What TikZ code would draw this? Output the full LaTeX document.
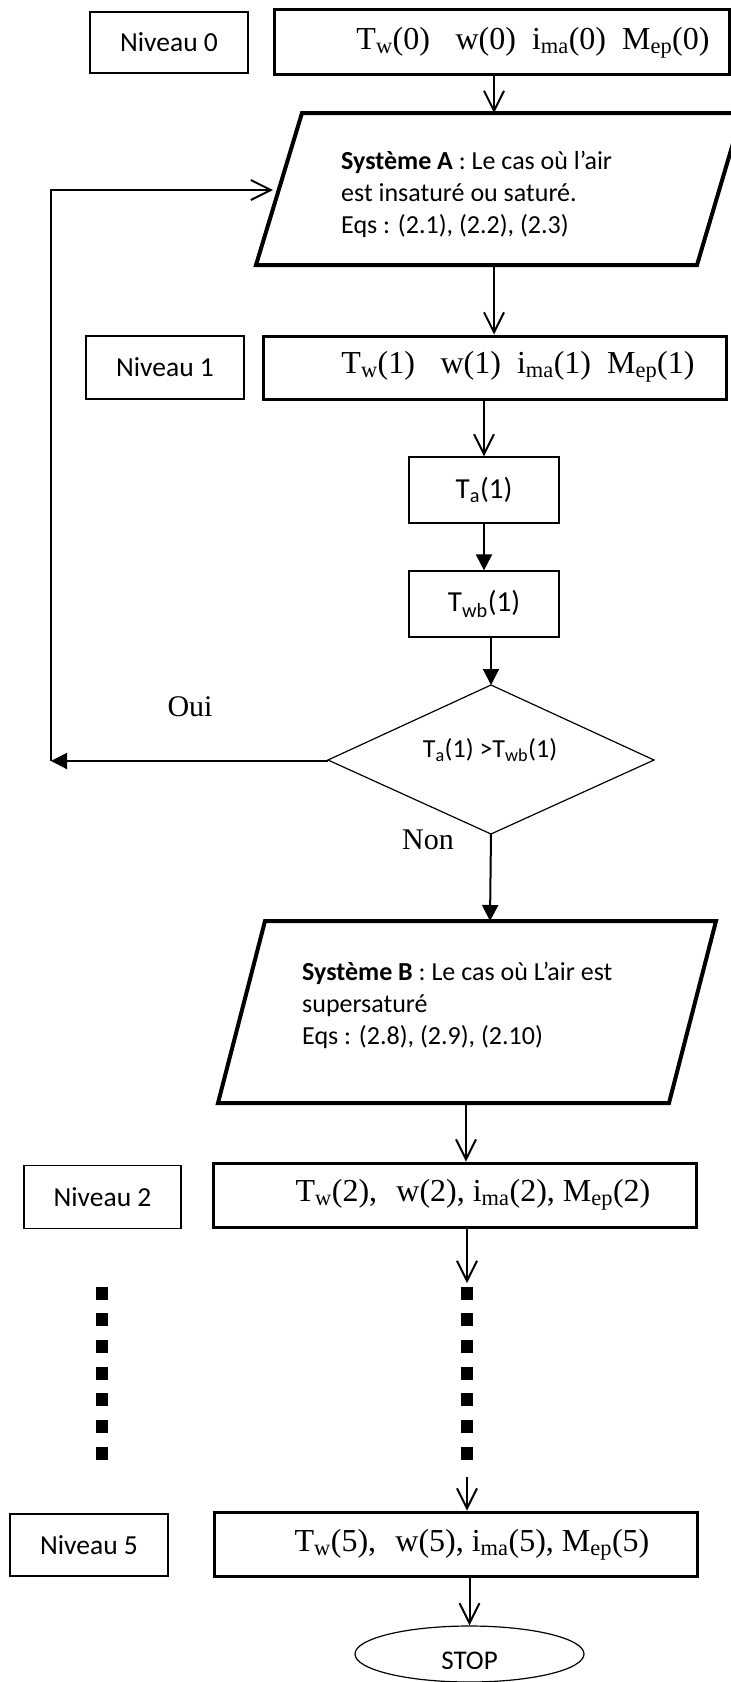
\documentclass[tikz,border=0pt]{standalone}
\usepackage{fontspec}
\setmainfont{Liberation Serif}
\newfontfamily\calib{Carlito}
\usetikzlibrary{arrows.meta,shapes.geometric}
\newcommand\sbx[1]{\textsubscript{#1}}
\begin{document}
\begin{tikzpicture}[x=1pt,y=-1pt,
  lbl/.style={draw, line width=1.2pt, inner sep=0pt, font=\calib\fontsize{27.5}{32}\selectfont},
  thinbox/.style={draw, line width=1.2pt, inner sep=0pt, font=\calib\fontsize{29}{32}\selectfont},
  thickbox/.style={draw, line width=3pt, inner sep=0pt},
  ttext/.style={inner sep=0pt, font=\fontsize{32}{36}\selectfont},
  ptext/.style={inner sep=0pt, align=left, anchor=west, font=\calib\fontsize{26}{32}\selectfont},
  para/.style={line width=4pt, line join=miter},
  openarr/.style={-{Straight Barb[length=20pt,width=20pt]}, line width=2pt},
  filarr/.style={-{Triangle[length=16pt,width=16pt]}, line width=2pt}
]
\useasboundingbox (0,0) rectangle (731,1682);
\clip (0,0) rectangle (731,1682);

% Niveau 0
\node[lbl, minimum width=158pt, minimum height=61pt] (n0) at (169,42.5) {Niveau 0};
\node[thickbox, minimum width=455pt, minimum height=65pt] (b0) at (501.5,41.5) {};
\node[ttext] (t0) at (533,43) {T\sbx{w}(0)\hspace{0.8em}w(0)\hspace{0.5em}i\sbx{ma}(0)\hspace{0.5em}M\sbx{ep}(0)};

% Systeme A
\draw[para] (302,113) -- (742,113) -- (697,265) -- (256,265) -- cycle;
\node[ptext] (A) at (341,194) {\textbf{Système A} : Le cas où l’air\\est insaturé ou saturé.\\Eqs : (2.1), (2.2), (2.3)};
\coordinate (Atop) at (494,113);
\coordinate (Abot) at (494,265);
\coordinate (Ain) at (273,190);
\draw[openarr] (b0.south -| Atop) -- (Atop);

% Niveau 1
\node[lbl, minimum width=158pt, minimum height=63pt] (n1) at (165,367.5) {Niveau 1};
\node[thickbox, minimum width=463pt, minimum height=63pt] (b1) at (494.5,367.5) {};
\node[ttext] (t1) at (518,367) {T\sbx{w}(1)\hspace{0.8em}w(1)\hspace{0.5em}i\sbx{ma}(1)\hspace{0.5em}M\sbx{ep}(1)};
\draw[openarr] (Abot) -- (Abot |- b1.north);

% Ta, Twb
\node[thinbox, minimum width=150pt, minimum height=66pt] (ta) at (484,490) {T\sbx{a}(1)};
\node[thinbox, minimum width=150pt, minimum height=66pt] (twb) at (484,604) {T\sbx{wb}(1)};
\draw[openarr] (b1.south -| ta) -- (ta.north);
\draw[filarr] (ta.south) -- (twb.north);

% Decision
\coordinate (Dt) at (491,685);
\coordinate (Dr) at (654,760);
\coordinate (Db) at (491,834);
\coordinate (Dl) at (328,760);
\draw[line width=1.2pt] (Dt) -- (Dr) -- (Db) -- (Dl) -- cycle;
\node[inner sep=0pt, font=\calib\fontsize{26}{30}\selectfont] (D) at (490,750) {T\sbx{a}(1) >T\sbx{wb}(1)};
\draw[filarr] (twb.south -| Dt) -- (Dt);
\node[inner sep=0pt, font=\fontsize{30}{34}\selectfont] (oui) at (190,707) {Oui};
\node[inner sep=0pt, font=\fontsize{30}{34}\selectfont] (non) at (428,840) {Non};

% Loop back
\coordinate (L1) at (51,761);
\coordinate (L2) at (51,190);
\draw[filarr] (Dl |- L1) -- (L1);
\draw[openarr] (L1) -- (L2) -- (Ain);

% Systeme B
\draw[para] (265,921) -- (716,921) -- (669,1103) -- (218,1103) -- cycle;
\node[ptext] (B) at (302,1005) {\textbf{Système B} : Le cas où L’air est\\supersaturé\\Eqs : (2.8), (2.9), (2.10)};
\coordinate (Btop) at (490,921);
\coordinate (Bbot) at (466,1103);
\draw[filarr] (Db) -- (Btop);

% Niveau 2
\node[lbl, minimum width=157pt, minimum height=63pt] (n2) at (102.5,1197) {Niveau 2};
\node[thickbox, minimum width=483pt, minimum height=64pt] (b2) at (454.5,1195) {};
\node[ttext] (t2) at (473,1195) {T\sbx{w}(2),\hspace{0.6em}w(2), i\sbx{ma}(2), M\sbx{ep}(2)};
\draw[openarr] (Bbot) -- (Bbot |- b2.north);

% dots
\coordinate (dtop) at (467,1283);
\draw[openarr] (b2.south -| dtop) -- (dtop);
\foreach \yy in {1293,1319.7,1346.3,1373,1399.7,1426.3,1453} {
  \fill (96,\yy-6.5) rectangle ++(12,13);
  \fill (461,\yy-6.5) rectangle ++(12,13);
}
\coordinate (dbot) at (467,1477);

% Niveau 5
\node[lbl, minimum width=158pt, minimum height=62pt] (n5) at (89,1545) {Niveau 5};
\node[thickbox, minimum width=483pt, minimum height=64pt] (b5) at (455.5,1544) {};
\node[ttext] (t5) at (472,1545) {T\sbx{w}(5),\hspace{0.6em}w(5), i\sbx{ma}(5), M\sbx{ep}(5)};
\draw[openarr] (dbot) -- (dbot |- b5.north);

% STOP
\node[draw, ellipse, line width=1.2pt, minimum width=229pt, minimum height=56pt, inner sep=0pt] (stop) at (469.5,1654) {};
\begin{scope}
\clip (0,0) rectangle (731,1668);
\node[inner sep=0pt, font=\calib\fontsize{27}{30}\selectfont] (stoptxt) at (469.5,1661) {STOP};
\end{scope}
\draw[openarr] (b5.south -| stop) -- (stop.north);
\end{tikzpicture}
\end{document}
